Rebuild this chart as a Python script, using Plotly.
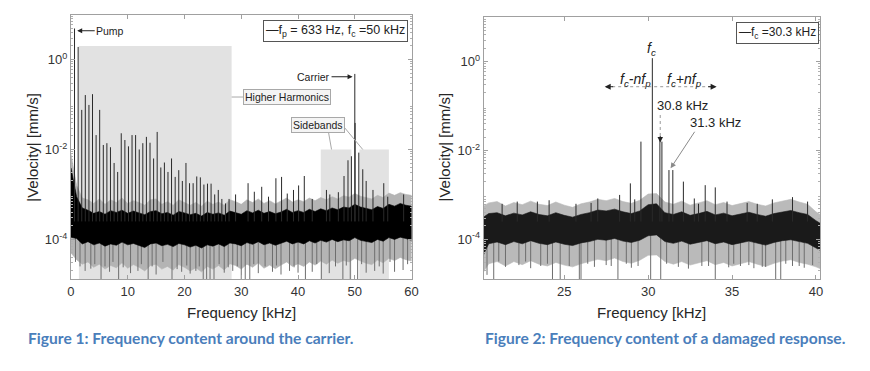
import plotly.graph_objects as go

FONT = "Liberation Sans, Arial, sans-serif"

# ---------------- Figure 1 (0-60 kHz, f_p = 633 Hz, f_c = 50 kHz) ----------------
f1_grid = [0, 1, 2, 3, 4, 5, 6, 7, 8, 9, 10, 11, 12, 13, 14, 15, 16, 17, 18, 19, 20,
           21, 22, 23, 24, 25, 26, 27, 28, 29, 30, 31, 32, 33, 34, 35, 36, 37, 38, 39, 40,
           41, 42, 43, 44, 45, 46, 47, 48, 49, 50, 51, 52, 53, 54, 55, 56, 57, 58, 59, 60]
# noise envelopes, log10(|v|)
f1_outer_hi = [-2.10, -2.80, -3.08, -3.12, -3.20, -3.10, -3.22, -3.12, -3.18, -3.08, -3.20,
               -3.14, -3.18, -3.24, -3.12, -3.10, -3.22, -3.16, -3.24, -3.12, -3.18,
               -3.24, -3.18, -3.26, -3.15, -3.22, -3.17, -3.24, -3.12, -3.16, -3.22,
               -3.12, -3.18, -3.10, -3.20, -3.14, -3.21, -3.15, -3.08, -3.17, -3.12,
               -3.16, -3.08, -3.14, -3.07, -3.12, -3.05, -3.10, -3.03, -3.06, -2.98,
               -3.04, -3.07, -3.10, -3.02, -3.07, -2.97, -3.02, -2.96, -3.00, -3.02]
f1_core_hi = [-2.40, -3.05, -3.30, -3.35, -3.42, -3.38, -3.44, -3.36, -3.40, -3.35, -3.42,
              -3.37, -3.41, -3.45, -3.38, -3.36, -3.43, -3.40, -3.46, -3.38, -3.41,
              -3.45, -3.42, -3.48, -3.40, -3.44, -3.41, -3.46, -3.37, -3.40, -3.44,
              -3.36, -3.41, -3.35, -3.42, -3.38, -3.43, -3.39, -3.33, -3.40, -3.36,
              -3.40, -3.33, -3.38, -3.32, -3.36, -3.30, -3.34, -3.28, -3.30, -3.22,
              -3.28, -3.31, -3.34, -3.27, -3.31, -3.22, -3.26, -3.20, -3.24, -3.26]
f1_core_lo = [-3.95, -3.98, -4.10, -4.05, -4.12, -4.08, -4.15, -4.10, -4.13, -4.06, -4.12,
              -4.09, -4.14, -4.18, -4.10, -4.08, -4.14, -4.11, -4.16, -4.09, -4.12,
              -4.17, -4.13, -4.19, -4.12, -4.15, -4.10, -4.16, -4.08, -4.10, -4.14,
              -4.07, -4.11, -4.05, -4.12, -4.08, -4.13, -4.08, -4.04, -4.10, -4.06,
              -4.10, -4.03, -4.08, -4.02, -4.06, -4.00, -4.05, -4.01, -4.03, -3.96,
              -4.02, -4.05, -4.07, -4.00, -4.04, -3.96, -4.00, -3.95, -3.98, -4.02]
f1_outer_lo = [-4.30, -4.45, -4.55, -4.50, -4.62, -4.55, -4.66, -4.58, -4.63, -4.52, -4.64,
               -4.56, -4.62, -4.70, -4.58, -4.55, -4.66, -4.60, -4.68, -4.56, -4.62,
               -4.70, -4.63, -4.72, -4.60, -4.66, -4.58, -4.68, -4.54, -4.58, -4.66,
               -4.55, -4.62, -4.52, -4.64, -4.57, -4.65, -4.57, -4.50, -4.60, -4.54,
               -4.60, -4.50, -4.57, -4.48, -4.55, -4.46, -4.53, -4.47, -4.50, -4.42,
               -4.48, -4.53, -4.56, -4.46, -4.52, -4.42, -4.47, -4.40, -4.45, -4.48]
# spectral lines: pump, its harmonics, scattered lines, carrier and sidebands
f1_peak_f = [0.63, 1.27, 1.90, 2.53, 3.17, 3.80, 4.43, 5.06, 5.70, 6.33, 6.96, 7.60, 8.23,
             8.86, 9.50, 10.13, 10.76, 11.39, 12.03, 12.66, 13.29, 13.93, 14.56, 15.19,
             15.83, 16.46, 17.09, 17.72, 18.36, 18.99, 19.62, 20.26, 20.89, 21.52, 22.16,
             22.79, 23.42, 24.05, 24.68, 25.32, 25.95, 26.58, 27.22, 27.85,
             29.0, 31.2, 32.3, 33.6, 34.8, 36.1, 37.1, 38.1, 39.2, 40.1, 41.1, 42.5,
             45.0, 45.6, 47.1, 48.1, 48.8, 49.4, 50.0, 50.05, 50.7, 51.4, 52.0, 53.2,
             55.1, 55.8, 58.6]
f1_peak_v = [0.69, 0.28, -1.12, -0.79, -1.01, -0.77, -1.68, -1.12, -1.90, -1.86, -1.95,
             -2.30, -2.50, -1.64, -1.79, -1.93, -1.68, -1.68, -2.00, -1.86, -1.72, -1.85,
             -2.20, -1.61, -2.40, -2.29, -2.50, -2.20, -2.61, -2.46, -2.70, -2.30, -2.75,
             -2.75, -2.60, -2.62, -2.78, -2.76, -2.76, -3.00, -2.90, -3.10, -3.20, -3.10,
             -3.00, -2.75, -2.94, -2.83, -3.05, -2.64, -2.61, -2.98, -2.90, -2.80, -2.59,
             -3.10, -2.90, -3.00, -2.95, -2.59, -2.24, -2.15, -0.32, -1.41, -2.07, -2.44,
             -2.70, -2.90, -2.75, -3.05, -3.00]
f1_dip_f = [0.8, 1.6, 2.5, 3.5, 4.2, 5.3, 6.0, 6.8, 7.4, 8.4, 9.2, 10.5, 11.8, 12.4, 13.6,
            14.3, 15.0, 16.2, 17.8, 18.7, 19.5, 20.4, 21.0, 22.0, 22.6, 23.3, 23.9, 24.5,
            25.2, 26.1, 27.0, 27.7, 28.5, 29.3, 30.0, 30.7, 31.5, 32.2, 33.0, 34.2, 35.5,
            36.2, 37.0, 38.5, 39.3, 40.0, 41.3, 42.5, 43.3, 44.1, 45.5, 46.6, 47.9, 48.5,
            49.2, 50.5, 51.2, 52.0, 53.5, 54.3, 55.0, 56.2, 57.0, 58.5, 59.3]
f1_dip_v = [-4.50, -4.60, -4.70, -4.65, -4.55, -4.90, -4.60, -4.72, -4.50, -4.90, -4.62,
            -4.75, -4.70, -4.55, -4.90, -4.60, -4.78, -4.50, -4.90, -4.66, -4.72, -4.58,
            -4.76, -4.70, -4.60, -4.90, -4.90, -4.90, -4.90, -4.55, -4.74, -4.62, -4.70,
            -4.60, -4.90, -4.90, -4.90, -4.55, -4.75, -4.60, -4.72, -4.58, -4.78, -4.70,
            -4.62, -4.74, -4.90, -4.72, -4.55, -4.90, -4.75, -4.60, -4.90, -4.58, -4.90,
            -4.90, -4.55, -4.74, -4.70, -4.60, -4.76, -4.50, -4.72, -4.68, -4.55]
# shaded regions (kHz, value)
f1_harm_box = (1.4, 28.3, 2.0)
f1_sb_left = (44.0, 49.4, 0.01)
f1_sb_right = (50.8, 56.0, 0.01)

# ---------------- Figure 2 (damaged response, f_c = 30.3 kHz) ----------------
f2_grid = [20.0, 20.5, 21.0, 21.5, 22.0, 22.5, 23.0, 23.5, 24.0, 24.5, 25.0, 25.5, 26.0,
           26.5, 27.0, 27.5, 28.0, 28.5, 29.0, 29.5, 30.0, 30.5, 31.0, 31.5, 32.0, 32.5,
           33.0, 33.5, 34.0, 34.5, 35.0, 35.5, 36.0, 36.5, 37.0, 37.5, 38.0, 38.5, 39.0,
           39.5, 40.0, 40.5]
f2_outer_hi = [-3.30, -3.18, -3.15, -3.25, -3.17, -3.22, -3.14, -3.21, -3.24, -3.16, -3.23,
               -3.28, -3.20, -3.16, -3.10, -3.13, -3.08, -3.15, -3.19, -3.12, -2.98, -2.97,
               -3.16, -3.21, -3.14, -3.23, -3.18, -3.13, -3.22, -3.17, -3.24, -3.19, -3.15,
               -3.21, -3.25, -3.18, -3.14, -3.10, -3.16, -3.21, -3.38, -3.50]
f2_core_hi = [-3.55, -3.42, -3.40, -3.47, -3.41, -3.45, -3.38, -3.44, -3.47, -3.40, -3.46,
              -3.50, -3.44, -3.40, -3.34, -3.36, -3.32, -3.38, -3.42, -3.36, -3.22, -3.20,
              -3.40, -3.44, -3.38, -3.46, -3.42, -3.37, -3.45, -3.41, -3.47, -3.43, -3.39,
              -3.44, -3.48, -3.42, -3.38, -3.35, -3.40, -3.44, -3.58, -3.70]
f2_core_lo = [-4.50, -4.10, -4.06, -4.12, -4.05, -4.10, -4.03, -4.09, -4.12, -4.06, -4.11,
              -4.14, -4.08, -4.05, -4.00, -4.02, -3.98, -4.04, -4.07, -4.02, -3.92, -3.90,
              -4.05, -4.09, -4.04, -4.11, -4.07, -4.03, -4.10, -4.06, -4.12, -4.08, -4.04,
              -4.09, -4.13, -4.07, -4.03, -4.01, -4.05, -4.09, -4.20, -4.30]
f2_outer_lo = [-4.85, -4.55, -4.50, -4.60, -4.50, -4.57, -4.48, -4.56, -4.60, -4.52, -4.58,
               -4.62, -4.55, -4.50, -4.45, -4.48, -4.42, -4.50, -4.54, -4.47, -4.36, -4.35,
               -4.50, -4.56, -4.50, -4.58, -4.53, -4.48, -4.57, -4.52, -4.60, -4.55, -4.50,
               -4.56, -4.61, -4.54, -4.49, -4.46, -4.52, -4.56, -4.62, -4.70]
f2_peak_f = [21.3, 22.2, 23.4, 24.1, 25.7, 26.6, 27.0, 28.3, 28.94, 29.2, 29.57, 30.25,
             30.7, 30.82, 31.24, 31.47, 32.1, 32.75, 33.0, 33.4, 34.0, 34.7, 35.9, 36.5,
             37.4, 38.6, 39.5]
f2_peak_v = [-3.20, -3.15, -3.15, -3.12, -3.20, -3.18, -3.08, -3.00, -2.74, -3.10, -1.80,
             0.08, -1.76, -1.80, -2.44, -2.44, -2.70, -3.08, -3.20, -2.78, -2.83, -3.15,
             -3.18, -3.20, -3.10, -3.05, -3.15]
f2_dip_f = [20.4, 20.8, 21.1, 21.5, 22.3, 22.7, 23.0, 23.6, 24.0, 24.3, 24.76, 25.3, 25.9,
            26.0, 26.4, 26.8, 27.5, 27.8, 28.2, 28.7, 29.0, 29.4, 30.15, 30.75, 31.1, 31.8,
            32.4, 33.2, 33.6, 34.0, 34.8, 35.1, 35.5, 36.0, 36.3, 36.8, 37.0, 37.6, 37.9,
            38.2, 38.6, 39.0, 39.3, 39.8]
f2_dip_v = [-4.80, -4.90, -4.50, -4.62, -4.58, -4.50, -4.65, -4.60, -4.55, -4.90, -4.90,
            -4.60, -4.90, -4.90, -4.55, -4.62, -4.58, -4.60, -4.90, -4.55, -4.64, -4.60,
            -4.90, -4.90, -4.55, -4.62, -4.66, -4.60, -4.60, -4.90, -4.63, -4.55, -4.60,
            -4.58, -4.65, -4.62, -4.62, -4.90, -4.90, -4.55, -4.60, -4.60, -4.64, -4.58]

# axis ticks
y_tick_vals = [1e-4, 1e-2, 1]
y_tick_text = ["10<sup>-4</sup>", "10<sup>-2</sup>", "10<sup>0</sup>"]
x1_ticks = [0, 10, 20, 30, 40, 50, 60]
x2_ticks = [25, 30, 35, 40]
y_minor = [m * 10.0 ** e for e in range(-5, 1) for m in range(2, 10)]

OFF = 8  # page body margin of the browser


def PX(x):
    return (x - OFF) / 870


def PY(y):
    return 1 - (y - OFF) / 371


def band(xs, hi, lo, color, xa, ya):
    return go.Scatter(x=list(xs) + list(xs)[::-1],
                      y=[10 ** v for v in hi] + [10 ** v for v in lo][::-1],
                      fill="toself", fillcolor=color, mode="lines",
                      line=dict(color=color, width=0.6), xaxis=xa, yaxis=ya,
                      hoverinfo="skip", showlegend=False)


def sticks(fs, vs, base, color, width, xa, ya):
    xx, yy = [], []
    for f, v in zip(fs, vs):
        xx += [f, f, None]
        yy += [10 ** base, 10 ** v, None]
    return go.Scatter(x=xx, y=yy, mode="lines", line=dict(color=color, width=width),
                      xaxis=xa, yaxis=ya, hoverinfo="skip", showlegend=False)


fig = go.Figure()
# Figure 1
fig.add_trace(band(f1_grid, f1_outer_hi, f1_outer_lo, "#b4b4b4", "x", "y"))
fig.add_trace(sticks(f1_dip_f, f1_dip_v, -3.9, "#6e6e6e", 1, "x", "y"))
fig.add_trace(band(f1_grid, f1_core_hi, f1_core_lo, "#000000", "x", "y"))
fig.add_trace(sticks(f1_peak_f, f1_peak_v, -3.6, "#2a2a2a", 1, "x", "y"))
# Figure 2
fig.add_trace(band(f2_grid, f2_outer_hi, f2_outer_lo, "#bababa", "x2", "y2"))
fig.add_trace(sticks(f2_dip_f, f2_dip_v, -3.9, "#6e6e6e", 1, "x2", "y2"))
fig.add_trace(band(f2_grid, f2_core_hi, f2_core_lo, "#1a1a1a", "x2", "y2"))
fig.add_trace(sticks(f2_peak_f, f2_peak_v, -3.6, "#2a2a2a", 1, "x2", "y2"))

axc = dict(showline=True, linecolor="#a0a0a0", linewidth=1, mirror="ticks",
           ticks="inside", ticklen=4, tickcolor="#a0a0a0", showgrid=False,
           zeroline=False, tickfont=dict(family=FONT, size=13, color="#333333"))
yc = dict(axc, type="log", tickmode="array", tickvals=y_tick_vals, ticktext=y_tick_text,
          minor=dict(ticks="inside", ticklen=2, tickcolor="#b0b0b0", tickmode="array",
                     tickvals=y_minor))

fig.update_layout(
    width=870, height=371, margin=dict(l=0, r=0, t=0, b=0),
    paper_bgcolor="white", plot_bgcolor="white", showlegend=False,
    xaxis=dict(axc, domain=[PX(67.7), PX(412.7)], range=[0, 60], tickvals=x1_ticks,
               anchor="y"),
    yaxis=dict(yc, domain=[PY(279), PY(15)], range=[-4.88, 0.99], anchor="x"),
    xaxis2=dict(axc, domain=[PX(485.7), PX(826.7)], range=[20.2, 40.26],
                tickvals=x2_ticks, anchor="y2"),
    yaxis2=dict(yc, domain=[PY(279.3), PY(17.3)], range=[-4.90, 1.0], anchor="x2"),
)

shapes = []
for (a, b, top) in [f1_harm_box, f1_sb_left, f1_sb_right]:
    shapes.append(dict(type="rect", xref="x", yref="y", x0=a, x1=b, y0=1e-6, y1=top,
                       fillcolor="#e2e2e2", line=dict(width=0), layer="below"))
shapes.append(dict(type="line", xref="x", yref="y", x0=45.3, x1=45.9, y0=10 ** -1.57,
                   y1=0.01, line=dict(color="#a8a8a8", width=1)))
shapes.append(dict(type="line", xref="x", yref="y", x0=48.1, x1=51.4, y0=10 ** -1.5,
                   y1=0.01, line=dict(color="#a8a8a8", width=1)))
# Figure 2 dotted guides
shapes.append(dict(type="line", xref="x2", yref="y2", x0=27.5, x1=34.0, y0=10 ** -0.563,
                   y1=10 ** -0.563, line=dict(color="#999999", width=1, dash="dot")))
shapes.append(dict(type="line", xref="x2", yref="y2", x0=30.72, x1=30.72, y0=10 ** -1.2,
                   y1=10 ** -1.75, line=dict(color="#999999", width=1, dash="dot")))
fig.update_layout(shapes=shapes)

ann = []
sm = dict(family=FONT, size=10.5, color="#222222")
ann.append(dict(xref="x", yref="y", x=1.1, y=0.64, text="Pump", showarrow=True,
                ax=33, ay=0, arrowhead=2, arrowsize=1, arrowwidth=1, arrowcolor="#222",
                font=sm))
ann.append(dict(xref="x", yref="y", x=49.6, y=-0.383, text="Carrier", showarrow=True,
                ax=-39, ay=0, arrowhead=2, arrowsize=1, arrowwidth=1, arrowcolor="#222",
                font=sm))
ann.append(dict(xref="x", yref="y", x=28.3, y=-0.834, text="Higher Harmonics",
                showarrow=True, ax=55, ay=0, arrowhead=0, arrowwidth=1,
                arrowcolor="#a8a8a8", font=sm, bordercolor="#a8a8a8", borderwidth=1,
                borderpad=1, bgcolor="#f4f4f4"))
ann.append(dict(xref="x", yref="y", x=43.6, y=-1.457, text="Sidebands", showarrow=False,
                font=sm, bordercolor="#a8a8a8", borderwidth=1, borderpad=1,
                bgcolor="#f4f4f4"))
lg = dict(family=FONT, size=12.5, color="#222222")
ann.append(dict(xref="paper", yref="paper", x=PX(409), y=PY(20),
                xanchor="right", yanchor="top",
                text="—f<sub>p</sub> = 633 Hz, f<sub>c</sub> =50 kHz", showarrow=False,
                font=lg, bordercolor="#555555", borderwidth=1, borderpad=2,
                bgcolor="white"))
ann.append(dict(xref="paper", yref="paper", x=PX(825), y=PY(22),
                xanchor="right", yanchor="top", text="—f<sub>c</sub> =30.3 kHz",
                showarrow=False, font=dict(lg, size=12), bordercolor="#555555",
                borderwidth=1, borderpad=2, bgcolor="white"))
it = dict(family=FONT, size=14, color="#222222")
ann.append(dict(xref="x2", yref="y2", x=30.22, y=0.286, text="<i>f<sub>c</sub></i>",
                showarrow=False, font=it))
ann.append(dict(xref="x2", yref="y2", x=29.25, y=-0.41,
                text="<i>f<sub>c</sub>-nf<sub>p</sub></i>", showarrow=False, font=it))
ann.append(dict(xref="x2", yref="y2", x=32.15, y=-0.41,
                text="<i>f<sub>c</sub>+nf<sub>p</sub></i>", showarrow=False, font=it))
for xh, axo in [(27.41, 10), (34.08, -10)]:
    ann.append(dict(xref="x2", yref="y2", x=xh, y=-0.563, text="", showarrow=True,
                    ax=axo, ay=0, arrowhead=2, arrowsize=1.2, arrowwidth=1,
                    arrowcolor="#222"))
ann.append(dict(xref="x2", yref="y2", x=30.72, y=-1.82, text="", showarrow=True, ax=0,
                ay=-8, arrowhead=2, arrowsize=1.1, arrowwidth=1, arrowcolor="#222"))
md = dict(family=FONT, size=13, color="#222222")
ann.append(dict(xref="x2", yref="y2", x=32.04, y=-0.996, text="30.8 kHz",
                showarrow=False, font=md))
ann.append(dict(xref="x2", yref="y2", x=34.0, y=-1.37, text="31.3 kHz",
                showarrow=False, font=md))
ann.append(dict(xref="x2", yref="y2", x=31.34, y=-2.40, text="", showarrow=True, ax=25,
                ay=-38, arrowhead=2, arrowsize=1.1, arrowwidth=1, arrowcolor="#8a8a8a"))
# axis titles
tf = dict(family=FONT, size=15, color="#262626")
for xc in [240, 656]:
    ann.append(dict(xref="paper", yref="paper", x=PX(xc), y=PY(312),
                    xanchor="center", yanchor="middle",
                    text="Frequency [kHz]", showarrow=False, font=tf))
for xc in [28, 446]:
    ann.append(dict(xref="paper", yref="paper", x=PX(xc), y=PY(147),
                    xanchor="center", yanchor="middle",
                    text="|Velocity| [mm/s]", showarrow=False, font=tf, textangle=-90))
# captions
cf = dict(family="Lato, Noto Sans, sans-serif", size=15.6, color="#4a7ebb")
ann.append(dict(xref="paper", yref="paper", x=PX(22), y=PY(338), xanchor="left",
                yanchor="middle",
                text="<b>Figure 1: Frequency content around the carrier.</b>",
                showarrow=False, font=cf))
ann.append(dict(xref="paper", yref="paper", x=PX(485), y=PY(338), xanchor="left",
                yanchor="middle",
                text="<b>Figure 2: Frequency content of a damaged response.</b>",
                showarrow=False, font=cf))
fig.update_layout(annotations=ann)

fig.write_html("out.html")
